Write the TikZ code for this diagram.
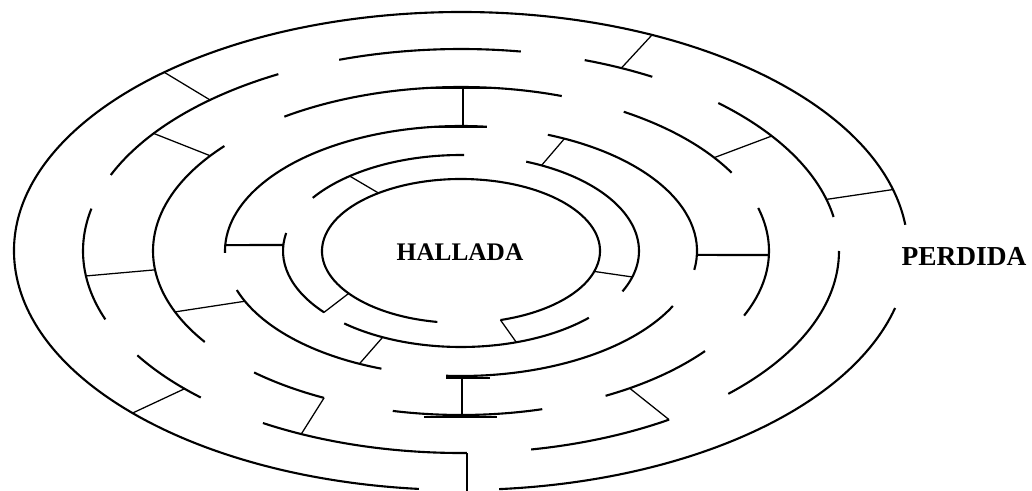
\documentclass[tikz,border=0pt]{standalone}
\usepackage{fontspec}
\setmainfont{Liberation Serif}
\tikzset{
  wallline/.style={line width=1.5pt},
  linkline/.style={line width=0.9pt},
  barline/.style={line width=1.5pt},
  beamline/.style={line width=2.1pt},
  mazetext/.style={font=\bfseries\fontsize{18}{20}\selectfont},
}

\begin{document}
\begin{tikzpicture}[x=0.025cm, y=-0.025cm]
\useasboundingbox (0,0) rectangle (1032,491);

\begin{scope}[shift={(461,251)}]
%% Ring 1: outer wall, open at the right
\foreach \s/\e in {-6.3/-264.6, 13.8/85.1}
  \draw[wallline] (\s:447 and 239) arc[start angle=\s, end angle=\e, x radius=447, y radius=239];

%% Ring 2
\foreach \s/\e in {-157.9/-118.9, -108.8/-80.9, -70.9/-59.6, -47.1/-9.7, 0/45,
                   56.6/79.3, 89.1/121.6, 133.5/148.9, 160.2/192.1}
  \draw[wallline] (\s:378 and 202) arc[start angle=\s, end angle=\e, x radius=378, y radius=202];

%% Ring 3
\foreach \s/\e in {-125/-70.9, -58.1/-28.5, -15.2/23.2, 37.6/62, 74.7/102.8,
                   116.4/132.2, 146.3/219.8}
  \draw[wallline] (\s:308 and 164) arc[start angle=\s, end angle=\e, x radius=308, y radius=164];

%% Ring 4
\foreach \s/\e in {-180.9/-83.7, -68.4/8.7, 26.1/93.6, 109.7/161.8}
  \draw[wallline] (\s:236 and 125) arc[start angle=\s, end angle=\e, x radius=236, y radius=125];

%% Ring 5
\foreach \s/\e in {-146.4/-89, -68.5/24.9, 44.1/131, 140.3/190.8}
  \draw[wallline] (\s:178 and 96) arc[start angle=\s, end angle=\e, x radius=178, y radius=96];

%% Ring 6: wall round the centre
\draw[wallline] (99.8:139 and 72) arc[start angle=99.8, end angle=433.5, x radius=139, y radius=72];

%% Cross walls between rings
% ring 1 -- ring 2
\draw[linkline] (-131.6:447 and 239) -- (-131.6:378 and 202);
\draw[linkline] (-64.7:447 and 239) -- (-64.9:378 and 202);
\draw[linkline] (-14.8:378 and 202) -- (-14.9:447 and 239);
\draw[linkline] (137:378 and 202) -- (137.3:447 and 239);
% ring 2 -- ring 3
\draw[linkline] (-144.4:378 and 202) -- (-144.5:308 and 164);
\draw[linkline] (-34.7:308 and 164) -- (-34.7:378 and 202);
\draw[linkline] (173.4:308 and 164) -- (172.9:378 and 202);
\draw[linkline] (56.8:308 and 164) -- (56.6:378 and 202);
\draw[linkline] (116.4:308 and 164) -- (115:378 and 202);
% ring 3 -- ring 4
\draw[linkline] (156.3:236 and 125) -- (158.2:308 and 164);
\draw[barline] (1.8:236 and 125) -- (1.4:308 and 164);
% ring 4 -- ring 5
\draw[linkline] (-64:236 and 125) -- (-63.1:178 and 96);
\draw[linkline] (116.1:178 and 96) -- (115.5:236 and 125);
\draw[barline] (-177.3:236 and 125) -- (-176.4:178 and 96);
% ring 5 -- ring 6
\draw[linkline] (-128.7:178 and 96) -- (-126.4:139 and 72);
\draw[linkline] (140.3:178 and 96) -- (143.9:139 and 72);
\draw[linkline] (73.5:139 and 72) -- (71.9:178 and 96);
\draw[linkline] (16.5:139 and 72) -- (15.7:178 and 96);

%% I-beams, top and bottom
\draw[beamline] (-35,-163) -- (33,-163) (2,-163) -- (2,-124) (-34,-124) -- (26,-124);
\draw[beamline] (-15,127) -- (29,127) (1,127) -- (1,166) (-37,166) -- (36,166);
% dead end through the bottom gap
\draw[beamline] (6,202) -- (6,240);
\end{scope}

%% Labels
\node[mazetext] (found) at (460,252) {HALLADA};
\node[mazetext, font=\bfseries\fontsize{19.5}{22}\selectfont] (lost) at (964,256) {PERDIDA};

\end{tikzpicture}
\end{document}
